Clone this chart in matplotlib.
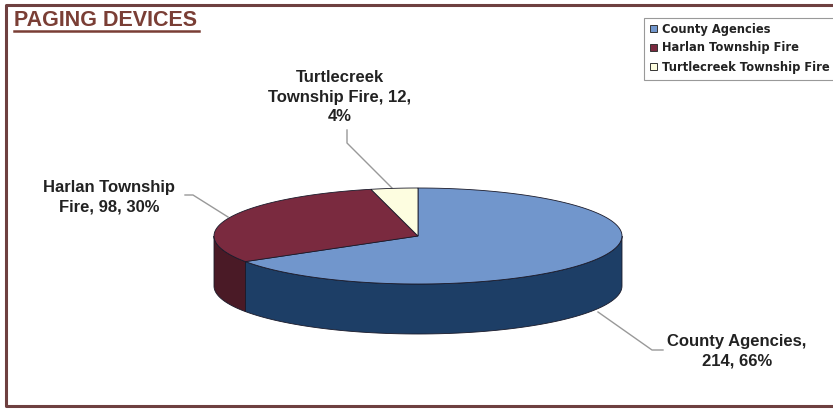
import numpy as np
import matplotlib.pyplot as plt
from matplotlib.patches import Polygon, Rectangle

plt.rcParams['font.family'] = ['Liberation Sans', 'DejaVu Sans']

# data
labels = ["County Agencies", "Harlan Township Fire", "Turtlecreek Township Fire"]
counts = [214, 98, 12]
pct_text = ["66%", "30%", "4%"]
top_colors = ["#7196cc", "#7a2a3f", "#fdfde0"]
side_colors = ["#1d3e66", "#4a1a26", "#c9c9a8"]

W, H = 833, 411
fig = plt.figure(figsize=(W / 100, H / 100), dpi=100)
ax = fig.add_axes([0, 0, 1, 1])
ax.set_xlim(0, W)
ax.set_ylim(H, 0)
ax.axis('off')

# pie geometry (pixel space)
cx, cy = 418, 236
rx, ry = 204, 48
depth = 50

vals = np.array(counts, dtype=float)
fracs = vals / vals.sum()
start = 90.0
angles = []
for f in fracs:
    end = start - f * 360
    angles.append((start, end))
    start = end

# side walls (front half only)
for (a1, a2), col in zip(angles, side_colors):
    lo, hi = min(a1, a2), max(a1, a2)
    for shift in (0, 360, -360):
        l, h = lo + shift, hi + shift
        s, e = max(l, -180), min(h, 0)
        if e > s:
            t = np.linspace(s, e, 80)
            xs = cx + rx * np.cos(np.radians(t))
            ys = cy - ry * np.sin(np.radians(t))
            poly = np.vstack([np.column_stack([xs, ys]),
                              np.column_stack([xs[::-1], ys[::-1] + depth])])
            ax.add_patch(Polygon(poly, closed=True, fc=col, ec="#1a1a2a", lw=0.6, zorder=2))

# top faces
for (a1, a2), col in zip(angles, top_colors):
    t = np.linspace(a1, a2, 120)
    xs = cx + rx * np.cos(np.radians(t))
    ys = cy - ry * np.sin(np.radians(t))
    poly = np.vstack([[cx, cy], np.column_stack([xs, ys])])
    ax.add_patch(Polygon(poly, closed=True, fc=col, ec="#1a1a2a", lw=0.6, zorder=3))

# data labels with leader lines
lab_text = ["County Agencies,\n%d, %s" % (counts[0], pct_text[0]),
            "Harlan Township\nFire, %d, %s" % (counts[1], pct_text[1]),
            "Turtlecreek\nTownship Fire, %d,\n%s" % (counts[2], pct_text[2])]
lab_pos = [(737, 351), (109, 197), (340, 97)]
for txt, (x, y) in zip(lab_text, lab_pos):
    ax.text(x, y, txt, ha='center', va='center', fontsize=12, fontweight='bold',
            color='#222222', linespacing=1.4, zorder=5)

ax.plot([663, 652, 598], [350, 350, 312], color='#999999', lw=1, zorder=1)
ax.plot([185, 193, 228], [195, 195, 217], color='#999999', lw=1, zorder=1)
ax.plot([347, 347, 392], [130, 143, 188], color='#999999', lw=1, zorder=1)

# frame
ax.plot([W + 5, 6, 6, W + 5], [5, 5, 406, 406], color='#6e4040', lw=2.2, zorder=6,
        clip_on=False)

# title
ax.text(14, 21, "PAGING DEVICES", ha='left', va='center', fontsize=15.5, fontweight='bold',
        color='#7a3e35', zorder=6)
ax.plot([14, 199], [31, 31], color='#7a3e35', lw=1.8, zorder=6)

# legend
ax.add_patch(Rectangle((644, 18), 200, 62, fc='white', ec='#999999', lw=0.8, zorder=4))
for i, (lab, col) in enumerate(zip(labels, top_colors)):
    y = 29 + i * 19
    ax.add_patch(Rectangle((650, y - 3.5), 7, 7, fc=col, ec='#333333', lw=0.7, zorder=5))
    ax.text(662, y, lab, ha='left', va='center', fontsize=8.3, fontweight='bold',
            family='DejaVu Sans', color='#222222', zorder=5)

fig.savefig('out.png', dpi=100, facecolor='white')
